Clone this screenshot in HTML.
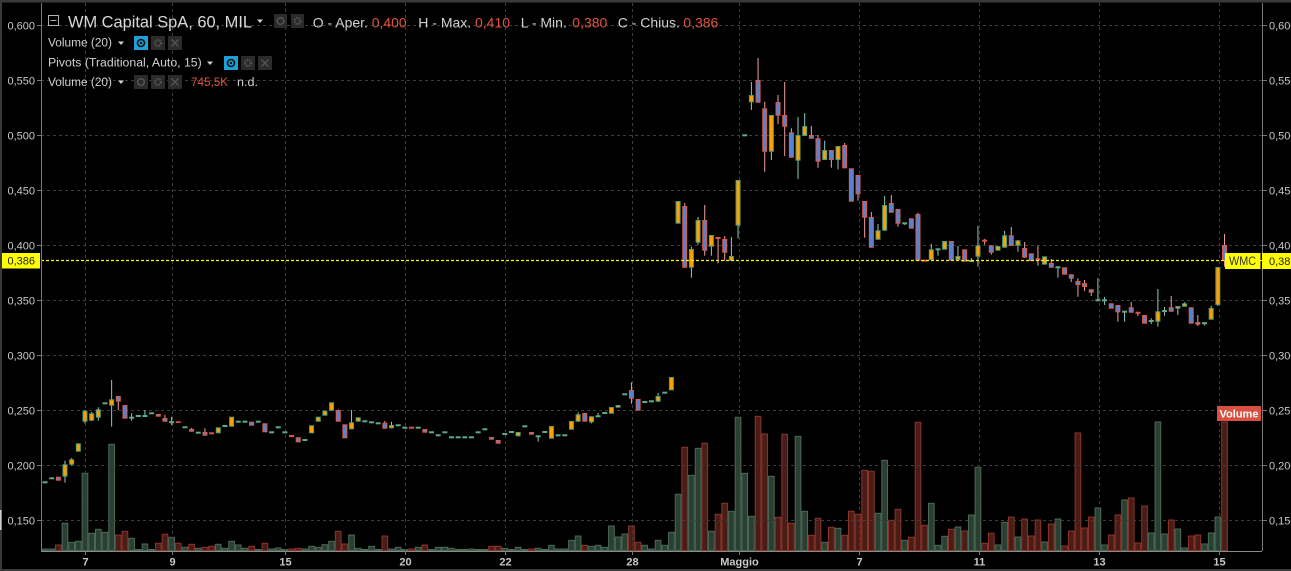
<!DOCTYPE html>
<html><head><meta charset="utf-8">
<style>
html,body{margin:0;padding:0;background:#000;}
body{width:1291px;height:571px;overflow:hidden;}
svg{display:block;font-family:"Liberation Sans",sans-serif;}
</style></head>
<body>
<svg id="s" width="1291" height="571" viewBox="0 0 1291 571" xmlns="http://www.w3.org/2000/svg">
<rect x="0" y="0" width="1291" height="571" fill="#000"/>
<!-- frame -->
<rect x="0" y="0" width="1291" height="2.5" fill="#3a3a3a"/>
<rect x="0" y="0" width="2" height="571" fill="#3a3a3a"/>
<rect x="0" y="569" width="1291" height="2" fill="#3a3a3a"/>
<rect x="0" y="510" width="1.5" height="20" fill="#cfcfcf"/>
<g id="vol"></g>
<!-- grid -->
<g stroke="#3c3c3c" stroke-width="1" stroke-dasharray="3,3" fill="none">
<line x1="41" x2="1262" y1="25.5" y2="25.5"/>
<line x1="41" x2="1262" y1="80.5" y2="80.5"/>
<line x1="41" x2="1262" y1="135.5" y2="135.5"/>
<line x1="41" x2="1262" y1="190.5" y2="190.5"/>
<line x1="41" x2="1262" y1="245.5" y2="245.5"/>
<line x1="41" x2="1262" y1="300.5" y2="300.5"/>
<line x1="41" x2="1262" y1="355.5" y2="355.5"/>
<line x1="41" x2="1262" y1="410.5" y2="410.5"/>
<line x1="41" x2="1262" y1="465.5" y2="465.5"/>
<line x1="41" x2="1262" y1="520.5" y2="520.5"/>
<line y1="3" y2="551" x1="85.5" x2="85.5"/>
<line y1="3" y2="551" x1="172.5" x2="172.5"/>
<line y1="3" y2="551" x1="285.5" x2="285.5"/>
<line y1="3" y2="551" x1="405.5" x2="405.5"/>
<line y1="3" y2="551" x1="505.5" x2="505.5"/>
<line y1="3" y2="551" x1="632.5" x2="632.5"/>
<line y1="3" y2="551" x1="739.5" x2="739.5"/>
<line y1="3" y2="551" x1="859.5" x2="859.5"/>
<line y1="3" y2="551" x1="979.5" x2="979.5"/>
<line y1="3" y2="551" x1="1099.5" x2="1099.5"/>
<line y1="3" y2="551" x1="1219.5" x2="1219.5"/>
</g>
<g id="cdl"></g>
<!-- price line -->
<line x1="41" x2="1225" y1="260.5" y2="260.5" stroke="#ffff00" stroke-width="1.2" stroke-dasharray="3,2"/>
<!-- axes -->
<g stroke="#777" stroke-width="1">
<line x1="41.5" x2="41.5" y1="3" y2="551"/>
<line x1="1262.5" x2="1262.5" y1="3" y2="551"/>
<line x1="41" x2="1262" y1="551.5" y2="551.5" stroke="#8a8a8a"/>
</g>
<g stroke="#777" stroke-width="1">
<line x1="37" x2="41" y1="25.5" y2="25.5"/><line x1="37" x2="41" y1="80.5" y2="80.5"/>
<line x1="37" x2="41" y1="135.5" y2="135.5"/><line x1="37" x2="41" y1="190.5" y2="190.5"/>
<line x1="37" x2="41" y1="245.5" y2="245.5"/><line x1="37" x2="41" y1="300.5" y2="300.5"/>
<line x1="37" x2="41" y1="355.5" y2="355.5"/><line x1="37" x2="41" y1="410.5" y2="410.5"/>
<line x1="37" x2="41" y1="465.5" y2="465.5"/><line x1="37" x2="41" y1="520.5" y2="520.5"/>
<line x1="1263" x2="1267" y1="25.5" y2="25.5"/><line x1="1263" x2="1267" y1="80.5" y2="80.5"/>
<line x1="1263" x2="1267" y1="135.5" y2="135.5"/><line x1="1263" x2="1267" y1="190.5" y2="190.5"/>
<line x1="1263" x2="1267" y1="245.5" y2="245.5"/><line x1="1263" x2="1267" y1="300.5" y2="300.5"/>
<line x1="1263" x2="1267" y1="355.5" y2="355.5"/><line x1="1263" x2="1267" y1="410.5" y2="410.5"/>
<line x1="1263" x2="1267" y1="465.5" y2="465.5"/><line x1="1263" x2="1267" y1="520.5" y2="520.5"/>
<line x1="85.5" x2="85.5" y1="552" y2="555"/><line x1="172.5" x2="172.5" y1="552" y2="555"/>
<line x1="285.5" x2="285.5" y1="552" y2="555"/><line x1="405.5" x2="405.5" y1="552" y2="555"/>
<line x1="505.5" x2="505.5" y1="552" y2="555"/><line x1="632.5" x2="632.5" y1="552" y2="555"/>
<line x1="739.5" x2="739.5" y1="552" y2="555"/><line x1="859.5" x2="859.5" y1="552" y2="555"/>
<line x1="979.5" x2="979.5" y1="552" y2="555"/><line x1="1099.5" x2="1099.5" y1="552" y2="555"/>
<line x1="1219.5" x2="1219.5" y1="552" y2="555"/>
</g>
<!-- left labels -->
<g font-size="11" fill="#c8c8c8" text-anchor="end">
<text x="35" y="29.5">0,600</text><text x="35" y="84.5">0,550</text>
<text x="35" y="139.5">0,500</text><text x="35" y="194.5">0,450</text>
<text x="35" y="249.5">0,400</text><text x="35" y="304.5">0,350</text>
<text x="35" y="359.5">0,300</text><text x="35" y="414.5">0,250</text>
<text x="35" y="469.5">0,200</text><text x="35" y="524.5">0,150</text>
</g>
<g font-size="11" fill="#c8c8c8">
<text x="1269" y="29.5">0,600</text><text x="1269" y="84.5">0,550</text>
<text x="1269" y="139.5">0,500</text><text x="1269" y="194.5">0,450</text>
<text x="1269" y="249.5">0,400</text><text x="1269" y="304.5">0,350</text>
<text x="1269" y="359.5">0,300</text><text x="1269" y="414.5">0,250</text>
<text x="1269" y="469.5">0,200</text><text x="1269" y="524.5">0,150</text>
</g>
<!-- bottom labels -->
<g font-size="11" font-weight="bold" fill="#c8c8c8" text-anchor="middle">
<text x="85.5" y="565.5">7</text><text x="172.5" y="565.5">9</text>
<text x="285.5" y="565.5">15</text><text x="405.5" y="565.5">20</text>
<text x="505.5" y="565.5">22</text><text x="632.5" y="565.5">28</text>
<text x="739.5" y="565.5">Maggio</text><text x="859.5" y="565.5">7</text>
<text x="979.5" y="565.5">11</text><text x="1099.5" y="565.5">13</text>
<text x="1219.5" y="565.5">15</text>
</g>
<!-- price tags -->
<rect x="2" y="253" width="38" height="15.5" fill="#ffff00"/>
<text x="35" y="264.5" font-size="11" fill="#222" text-anchor="end">0,386</text>
<rect x="1225" y="253" width="35.5" height="16" fill="#ffff00"/>
<text x="1229" y="265" font-size="11.5" fill="#333" textLength="27" lengthAdjust="spacingAndGlyphs">WMC</text>
<rect x="1260.5" y="260" width="2" height="1" fill="#ffff00"/>
<rect x="1262" y="253" width="29" height="16" fill="#ffff00"/>
<text x="1269" y="265" font-size="11" fill="#222">0,386</text>
<!-- volume tag -->
<rect x="1217" y="406" width="44" height="15" fill="#d8503f"/>
<text x="1239" y="417.5" font-size="11" font-weight="bold" fill="#fff" text-anchor="middle">Volume</text>
<!-- header -->
<rect x="48.5" y="15.5" width="10" height="10" fill="none" stroke="#b0b0b0" stroke-width="1"/>
<line x1="50.5" x2="56.5" y1="20.5" y2="20.5" stroke="#b0b0b0"/>
<text x="68" y="27.3" font-size="16.4" fill="#d8d8d8" textLength="184" lengthAdjust="spacingAndGlyphs">WM Capital SpA, 60, MIL</text>
<polygon points="257,19.5 263,19.5 260,23" fill="#d0d0d0"/>
<rect x="274" y="14" width="13" height="14" fill="#2b2b2b"/>
<circle cx="280.5" cy="21" r="3.3" fill="none" stroke="#555" stroke-width="1.4"/>
<rect x="291" y="14" width="13" height="14" fill="#2b2b2b"/>
<circle cx="297.5" cy="21" r="3" fill="none" stroke="#555" stroke-width="2" stroke-dasharray="1.5,1"/>
<g font-size="14">
<text x="312.7" y="27.3" fill="#d0d0d0">O - Aper.</text>
<text x="371.7" y="27.3" fill="#e0553f">0,400</text>
<text x="418.3" y="27.3" fill="#d0d0d0">H - Max.</text>
<text x="475" y="27.3" fill="#e0553f">0,410</text>
<text x="520.7" y="27.3" fill="#d0d0d0">L - Min.</text>
<text x="572.3" y="27.3" fill="#e0553f">0,380</text>
<text x="617.7" y="27.3" fill="#d0d0d0">C - Chius.</text>
<text x="683.3" y="27.3" fill="#e0553f">0,386</text>
</g>
<!-- row 2 -->
<text x="48" y="46.7" font-size="11.5" fill="#d0d0d0" textLength="64" lengthAdjust="spacingAndGlyphs">Volume (20)</text>
<polygon points="118,41.5 124,41.5 121,45" fill="#d0d0d0"/>
<rect x="134" y="36" width="14" height="14" fill="#1e9fd8"/>
<circle cx="141" cy="43" r="3.5" fill="none" stroke="#111" stroke-width="1.6"/>
<circle cx="141" cy="43" r="1.2" fill="#111"/>
<rect x="151" y="36" width="14" height="14" fill="#2b2b2b"/>
<circle cx="158" cy="43" r="3" fill="none" stroke="#555" stroke-width="2" stroke-dasharray="1.5,1"/>
<rect x="168" y="36" width="14" height="14" fill="#2b2b2b"/>
<path d="M171.5 39.5 L178.5 46.5 M178.5 39.5 L171.5 46.5" stroke="#555" stroke-width="1.3"/>
<!-- row 3 -->
<text x="48" y="66.7" font-size="11.5" fill="#d0d0d0" textLength="153.7" lengthAdjust="spacingAndGlyphs">Pivots (Traditional, Auto, 15)</text>
<polygon points="207,61.5 213,61.5 210,65" fill="#d0d0d0"/>
<rect x="224" y="56" width="14" height="14" fill="#1e9fd8"/>
<circle cx="231" cy="63" r="3.5" fill="none" stroke="#111" stroke-width="1.6"/>
<circle cx="231" cy="63" r="1.2" fill="#111"/>
<rect x="241" y="56" width="14" height="14" fill="#2b2b2b"/>
<circle cx="248" cy="63" r="3" fill="none" stroke="#555" stroke-width="2" stroke-dasharray="1.5,1"/>
<rect x="258" y="56" width="14" height="14" fill="#2b2b2b"/>
<path d="M261.5 59.5 L268.5 66.5 M268.5 59.5 L261.5 66.5" stroke="#555" stroke-width="1.3"/>
<!-- row 4 -->
<text x="48" y="86" font-size="11.5" fill="#d0d0d0" textLength="64" lengthAdjust="spacingAndGlyphs">Volume (20)</text>
<polygon points="118,80.5 124,80.5 121,84" fill="#d0d0d0"/>
<rect x="134" y="75" width="14" height="14" fill="#2b2b2b"/>
<circle cx="141" cy="82" r="3.3" fill="none" stroke="#555" stroke-width="1.4"/>
<rect x="151" y="75" width="14" height="14" fill="#2b2b2b"/>
<circle cx="158" cy="82" r="3" fill="none" stroke="#555" stroke-width="2" stroke-dasharray="1.5,1"/>
<rect x="168" y="75" width="14" height="14" fill="#2b2b2b"/>
<path d="M171.5 78.5 L178.5 85.5 M178.5 78.5 L171.5 85.5" stroke="#555" stroke-width="1.3"/>
<text x="191" y="86" font-size="11.5" fill="#e0553f" textLength="37" lengthAdjust="spacingAndGlyphs">745,5K</text>
<text x="237" y="86" font-size="11.5" fill="#d0d0d0" textLength="21" lengthAdjust="spacingAndGlyphs">n.d.</text>
</svg>
<script>
(function(){
var ns='http://www.w3.org/2000/svg';
function el(t,a,p){var e=document.createElementNS(ns,t);for(var k in a)e.setAttribute(k,a[k]);p.appendChild(e);return e;}
var gv=document.getElementById('vol'),gc=document.getElementById('cdl');
var C=[['g',482.3],['g',478.3],['d',476.7,480.7],['u',464.3,476.7,460.7,482.7],['u',459.3,464.7,458,465.5],['u',443.3,451.7],['u',410.7,421.7,410,423.3],['u',413.3,420.7,412,421],['u',409.3,417.7,407.3,420.7],['g',403.3],
['u',399.3,405.7,380,426.7],['d',396,401.7,396,410],['d',405,418.7],['g',417.7,413.3,420.7],['g',416],['g',416,410,416],['g',413.3],['d',414,416.7],['d',418,421.7,415,421.7],['u',421,423.3,416.7,425],
['d',421.3,422.7],['g',427.3],['d',429,431.7,428,431.7],['g',432.7],['d',432,435.7,428.3,435.7],['r',433.3],['u',427.3,433.3],['g',426],['u',416.7,426.7],['g',421.7],
['g',421.7],['d',421.7,425.7],['g',421.7],['d',423.3,432.3],['g',432.3],['g',427.3],['g',432.3],['r',436],['d',437.3,442.3],['g',440],
['u',425.3,433.3],['u',416.7,421.7],['u',410.7,415.7],['u',402.3,410.7],['d',410,421.7,409.3,421.7],['d',424.3,438.3],['u',422.3,429.3,410,429.3],['u',417.3,421.7],['g',421.3],['g',422.3],
['g',423.3],['d',422.7,428.7,421,428.7],['u',425,428.3,421.7,428.3],['g',425.3],['g',427.7],['r',427.7],['g',427.7],['d',429,432.7],['g',432.3],['g',435.3],
['g',432.3],['g',437.3],['g',437.3],['g',437.3],['g',437.3],['g',432.3],['g',429.3],['d',437,439.7],['d',440,443.7],['g',434],
['g',432],['u',432,436.3],['g',426.3],['d',432,434.7],['g',436.3,436.3,441.7],['g',432],['u',426,438.7],['g',435.3],['g',435.3],['u',421,429.7],
['u',414.3,421.7,412.3,421.7],['d',413,421.7],['u',416.3,422.3,416.3,423.3],['g',416.3,413,416.3],['g',413],['u',407,413.7],['u',405,407.7],['g',394.3],['d',390,398.7,382.3,403.7],['d',399,410.7],
['g',402],['g',401.3],['u',396,401.7,393,401.7],['g',392.7],['u',377,390.3],['u',201,223.7],['d',206,267.7,203,267.7],['u',249,267.7,246.7,277.7],['u',220,242.7,217,244.7],['d',220,250.7,205,255.7],
['u',235,246.7,235,255.7],['r',238,238,263.3],['d',239,252.7,236,260.7],['u',256,260.7,237,260.7],['u',180,225.7,180,238.3],['g',135.3],['u',95,102.3,82,110],['d',80,102.7,58,102.7],['d',108.3,151.7,101.7,171.7],['u',115,151.7,115,160],
['d',102,115.7,95,124],['d',115,126.7,82,156],['d',132.3,157.7,128.3,157.7],['u',135,160.7,117,179],['u',126,136,113,136],['d',135,138.7,126,138.7],['d',138.3,161.7,135,167.7],['u',150,160,140.7,160],['d',150,160,150,167.7],['u',146,160,146,169.3],
['d',145,168.3,143,168.3],['d',168.3,201.7],['d',175,194.3,175,200.7],['d',201,217.7,201,237.7],['d',217,247.7,212,247.7],['u',230.3,239.7,224,239.7],['u',205,230.7,196,230.7],['d',203,212.7,195,212.7],['d',209,223.7,209,226.7],['g',223.3,223.3,225],
['d',218.3,228.7],['d',214,260.7,212.7,260.7],['r',260.7],['u',249.3,260,244,260],['g',249.3,249.3,255.7],['u',241,249.7],['d',241,260.5],['u',256,260,246,260],['d',249.3,261.7],['g',261,258,261],
['u',245.3,256.7,226,266.7],['r',240.7,239,244.7],['d',245.3,252.7,245.3,254.7],['u',246,250.7],['u',235.3,247.7,231,247.7],['d',235.3,246,227,246],['u',240.3,245.7,240.3,251.7],['d',248,257.7,242,257.7],['d',253.3,261],['r',259.3,246,265.7],
['u',256.3,264.7],['d',263,267.7,259,267.7],['g',267.3,267.3,277.7],['d',267.3,274.7],['d',274.3,278.7,274.3,282],['d',281,285,278.3,296.7],['d',283.3,287,280,291],['d',289.3,292.7,289.3,296],['g',300.3,278,300.3],['g',300.3,297,305],
['d',303.3,308.7],['d',305,312.3,305,321.7],['g',311.7,311.7,321.7],['d',307.3,312.7,302,312.7],['r',312.7,312.7,316],['d',315,323.7],['g',321,318.3,324],['u',311.3,321.7,289,326.7],['g',311,307,315.7],['d',307.3,311.7,296,311.7],
['u',306,308.7,306,315],['u',303.3,306.7,302.3,306.7],['d',307.3,323.7],['d',322,324.7,315,326],['u',322,324.3,322,325.5],['u',308,319.7,305.7,319.7],['u',267,305,267,306],['d',245,260,234,266.7]];
var V=[['g',549],['g',549],['r',545],['g',523.3],['g',542.3],['g',541.3],['g',473.3],['g',533.3],['g',529.3],['g',532.3],
['g',444.3],['r',535],['r',531.3],['g',538.3],['g',549.5],['g',544],['g',549.5],['r',543.3],['r',534.3],['g',537.3],
['r',543.3],['g',547.3],['r',544.3],['g',548.3],['r',547.3],['r',546.3],['g',544.3],['g',548.3],['g',541.3],['g',545],
['g',548.3],['r',546.3],['g',549.5],['r',543.3],['g',549],['g',548],['g',549.5],['r',549],['r',548.3],['g',549],
['g',546.3],['g',547.3],['g',544.7],['g',541.3],['r',531.3],['r',544],['g',535],['g',548.3],['g',549.5],['g',546.3],
['g',549.5],['r',536],['g',549],['g',547.3],['g',549.5],['r',549],['g',547.3],['r',545],['g',549.5],['g',547.3],
['g',547.3],['g',548.3],['g',549.5],['g',549.5],['g',549],['g',549.5],['g',549.5],['r',546.3],['r',546.3],['g',548.3],
['g',549.5],['g',547.3],['g',549.5],['r',549],['g',548.3],['g',549.5],['g',545.3],['g',549],['g',549],['g',540.3],
['g',536],['r',545.3],['g',546.3],['g',545.3],['g',547.3],['g',526],['g',537],['g',534],['r',526],['r',542.3],
['g',545.3],['g',549],['g',540.3],['g',545.3],['g',532.3],['g',494.3],['r',447.3],['g',475.3],['g',448.3],['r',443.3],
['g',531.3],['r',514.3],['r',503.3],['g',511.3],['g',417.3],['g',473.3],['g',516.3],['r',416.3],['r',434],['g',476.3],
['r',517.3],['r',434.3],['r',523.3],['g',436.3],['g',511.3],['r',535.3],['r',518.3],['g',542.3],['r',527.3],['g',528.3],
['r',535.3],['r',511.3],['r',514.3],['r',470.3],['r',471.3],['g',513.3],['g',460.3],['r',520.3],['r',509.3],['g',540.3],
['r',537.3],['r',422.3],['r',525.3],['g',503.3],['g',545.3],['g',536.3],['r',529.3],['g',527],['r',531],['g',515],
['g',467.3],['r',543.3],['r',533.3],['g',545],['g',522.3],['r',517],['g',537],['r',519],['r',536],['r',520],
['g',542],['r',524],['g',519],['r',546],['r',531],['r',433],['r',528],['r',517],['g',508],['g',545],
['r',535],['r',515],['g',500],['r',498],['r',543],['r',506],['g',533],['g',422],['g',534],['r',520],
['g',529],['g',548],['r',536],['r',535],['g',544],['g',533],['g',517],['r',422]];
var step=6.664;
V.forEach(function(v,i){var c=45+i*step;var top=v[1];var h=550.5-top;if(h<0.8)h=0.8;
 var g=v[0]=='g';
 el('rect',{x:(c-2.83).toFixed(2),y:top,width:5.66,height:h.toFixed(2),fill:g?'#293f32':'#4a1c17',stroke:g?'#4c6a58':'#8b3528','stroke-width':1},gv);});
C.forEach(function(d,i){var c=45+i*step;var t=d[0];
 if(t=='g'||t=='r'){var y=d[1];var hi=d[2]!==undefined?d[2]:y,lo=d[3]!==undefined?d[3]:y;
  if(hi<y-0.3||lo>y+0.3)el('line',{x1:c,x2:c,y1:hi,y2:lo,stroke:t=='g'?'#8fcac0':'#f4a0a0','stroke-width':1},gc);
  el('rect',{x:(c-2.5).toFixed(2),y:y-1,width:5,height:2,fill:t=='g'?'#5fa98c':'#e0553f'},gc);}
 else{var top=d[1],bot=d[2];var hi=d[3]!==undefined?d[3]:top,lo=d[4]!==undefined?d[4]:bot;var up=t=='u';
  if(hi<top-0.3||lo>bot+0.3)el('line',{x1:c,x2:c,y1:hi,y2:lo,stroke:up?'#8fcac0':'#f4a0a0','stroke-width':1},gc);
  var h=bot-top-1;if(h<0.6)h=0.6;
  el('rect',{x:(c-2).toFixed(2),y:top+0.5,width:4,height:h.toFixed(2),fill:up?'#ff9f00':'#4f84db',stroke:up?'#4e9e7e':'#e35a40','stroke-width':1},gc);}
});
})();
</script>
</body></html>
